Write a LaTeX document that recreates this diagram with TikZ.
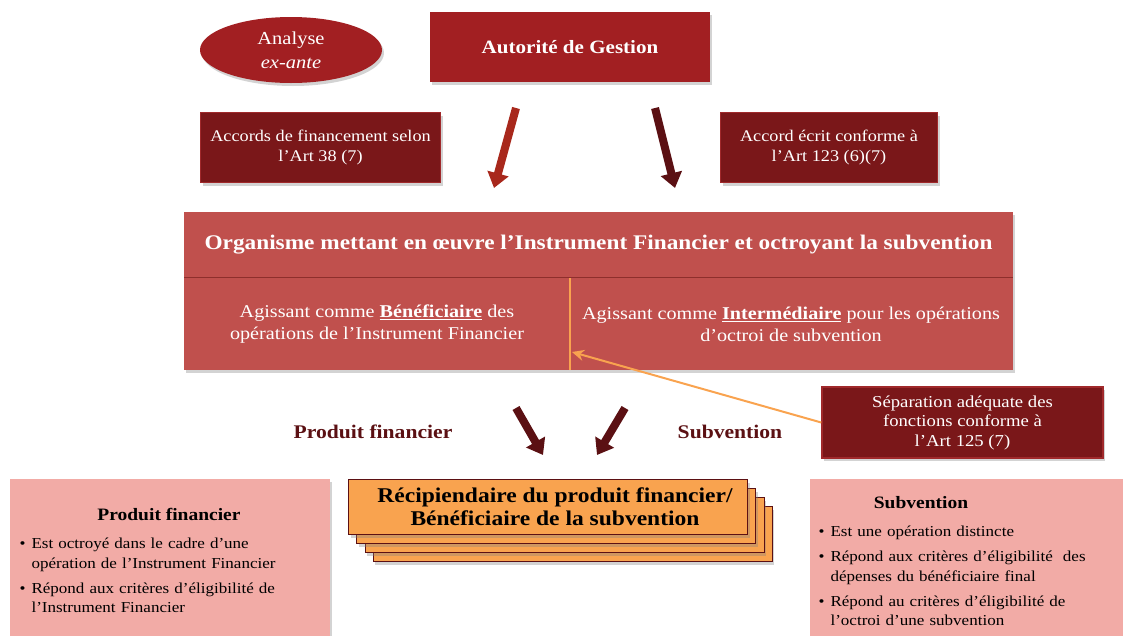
\documentclass[tikz,border=0pt]{standalone}
\usepackage{fontspec}
\setmainfont{Liberation Serif}[FakeStretch=1.12]
\usetikzlibrary{shapes.geometric,shadows,arrows.meta}

\definecolor{rougeag}{HTML}{A21F22}
\definecolor{rougefonce}{HTML}{7A1719}
\definecolor{bordfonce}{HTML}{A0292B}
\definecolor{rougeorg}{HTML}{C0504D}
\definecolor{traitorg}{HTML}{8E2F2C}
\definecolor{orange}{HTML}{F9A34F}
\definecolor{roseclair}{HTML}{F2ABA6}
\definecolor{flecherouge}{HTML}{A8281C}
\definecolor{flechebrune}{HTML}{5B1013}

\newcommand\puce{\par\hangindent=12pt\hangafter=1\noindent\hbox to 12pt{\textbullet\hfil}}

\tikzset{
  ombre/.style={drop shadow={opacity=0.35,shadow xshift=2pt,shadow yshift=-3pt}},
  boitefonce/.style={draw=bordfonce,line width=1.5pt,fill=rougefonce,ombre,text=white,
    align=center,font=\fontsize{16.3}{20}\selectfont},
  fleche/.style={line width=8pt,-{Triangle[width=21pt,length=15pt]}},
  traitorange/.style={draw=orange,line width=2pt},
  boiterec/.style={draw=flechebrune,line width=0.8pt,fill=orange,ombre,
    minimum width=399,minimum height=55},
  boiterose/.style={fill=roseclair,ombre},
  liste/.style={anchor=north west,align=left,
    font=\fontsize{15.2}{19.5}\selectfont\setlength\parskip{5.5pt}},
}

\begin{document}
\begin{tikzpicture}[x=1pt,y=-1pt]
\useasboundingbox (0,0) rectangle (1123,635);

% haut
\node[ellipse,fill=rougeag,ombre,minimum width=182,minimum height=66,text=white,
  align=center,font=\fontsize{18.3}{24}\selectfont] (exante) at (291,50) {Analyse\\\textit{ex-ante}};
\node[fill=rougeag,ombre,minimum width=280,minimum height=70,text=white,
  font=\bfseries\fontsize{18.8}{22}\selectfont] (ag) at (570,47) {Autorité de Gestion};
\node[boitefonce,minimum width=240,minimum height=70] (accords) at (320.5,147.5)
  {Accords de financement selon\\l’Art 38 (7)};
\node[boitefonce,minimum width=217,minimum height=70] (ecrit) at (829,147.5)
  {Accord écrit conforme à\\l’Art 123 (6)(7)};

\coordinate (ag1) at (516,108);
\coordinate (ag2) at (494,188);
\coordinate (ag3) at (655,108);
\coordinate (ag4) at (675,188);
\draw[fleche,flecherouge] (ag1) -- (ag2);
\draw[fleche,flechebrune] (ag3) -- (ag4);

% organisme
\node[fill=rougeorg,ombre,minimum width=829,minimum height=158] (org) at (598.5,291) {};
\coordinate (div1) at (184,277);
\coordinate (div2) at (1013,277);
\draw[traitorg,line width=1pt] (div1) -- (div2);
\node[text=white,font=\bfseries\fontsize{20.8}{24}\selectfont] (orgtitre) at (598.5,245)
  {Organisme mettant en œuvre l’Instrument Financier et octroyant la subvention};
\node[text=white,align=center,font=\fontsize{18}{22}\selectfont] (benef) at (377,324)
  {Agissant comme \underline{\textbf{Bénéficiaire}} des\\opérations de l’Instrument Financier};
\node[text=white,align=center,font=\fontsize{18}{22}\selectfont] (interm) at (791,324)
  {Agissant comme \underline{\textbf{Intermédiaire}} pour les opérations\\d’octroi de subvention};
\coordinate (sep) at (570,278);
\draw[traitorange] (sep) -- (sep |- org.south);

\node[boitefonce,minimum width=281,minimum height=71,font=\fontsize{16.7}{19.5}\selectfont]
  (separ) at (962.5,422.5) {Séparation adéquate des\\fonctions conforme à\\l’Art 125 (7)};
\coordinate (pointe) at (572,352);
\draw[traitorange,-{Stealth[length=12pt,width=11pt]}] (separ.west) -- (pointe);

% bas
\node[text=flechebrune,font=\bfseries\fontsize{19.3}{22}\selectfont] (lprod) at (373,432) {Produit financier};
\node[text=flechebrune,font=\bfseries\fontsize{19.3}{22}\selectfont] (lsub) at (730,432) {Subvention};
\coordinate (b1) at (516,408);
\coordinate (b2) at (543,455);
\coordinate (b3) at (625,408);
\coordinate (b4) at (597,455);
\draw[fleche,flechebrune] (b1) -- (b2);
\draw[fleche,flechebrune] (b3) -- (b4);

\foreach \k in {3,2,1}
  \node[boiterec] (recip\k) at (548+8.3*\k,507+9*\k) {};
\node[boiterec] (recip) at (548,507) {};
\node[align=center,font=\bfseries\fontsize{21}{23}\selectfont] (recipt) at (555,507)
  {Récipiendaire du produit financier/\\Bénéficiaire de la subvention};

\node[boiterose,minimum width=320,minimum height=165] (rprod) at (170,561.5) {};
\node[font=\bfseries\fontsize{17.4}{20}\selectfont] (tprod) at (169,514) {Produit financier};
\node[liste,text width=305] (lstprod) at (16,520)
  {\puce Est octroyé dans le cadre d’une\newline opération de l’Instrument Financier
   \puce Répond aux critères d’éligibilité de\newline l’Instrument Financier\par};

\node[boiterose,minimum width=315,minimum height=165] (rsub) at (967.5,561.5) {};
\node[font=\bfseries\fontsize{17.4}{20}\selectfont] (tsub) at (921,503) {Subvention};
\node[liste,text width=300] (lstsub) at (815,508)
  {\puce Est une opération distincte
   \puce Répond aux critères d’éligibilité\ \ des\newline dépenses du bénéficiaire final
   \puce Répond au critères d’éligibilité de\newline l’octroi d’une subvention\par};
\end{tikzpicture}
\end{document}
